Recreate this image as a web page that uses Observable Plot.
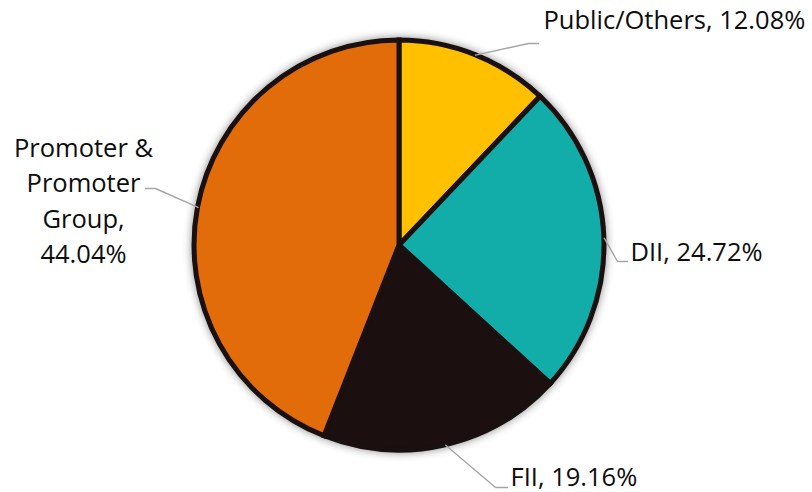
<!DOCTYPE html>
<html><head><meta charset="utf-8">
<script src="https://cdn.jsdelivr.net/npm/d3@7"></script>
<script src="https://cdn.jsdelivr.net/npm/@observablehq/plot@0.6"></script>
<style>body{margin:0;background:#fff}</style>
</head><body><div id="chart"></div>
<script>
// ---- data ----
const categories = ["Public/Others", "DII", "FII", "Promoter & Promoter Group"];
const shares = [12.08, 24.72, 19.16, 44.04];
const labelTexts = ["Public/Others, 12.08%", "DII, 24.72%", "FII, 19.16%", "Promoter &\nPromoter\nGroup,\n44.04%"];
const palette = ["#FFC000", "#12ADA8", "#1B0F0F", "#E36C0A"];

// ---- layout (pixels) ----
const W = 812, H = 492, cx = 399, cy = 245, R = 205;
const layout = [
  {elbow: [528, 43], end: [538, 43], text: [543, 20], anchor: "start"},
  {elbow: [617, 261], end: [627, 261], text: [630, 252], anchor: "start"},
  {elbow: [495, 487], end: [507, 487], text: [510, 477], anchor: "start"},
  {elbow: [155, 188], end: [145, 188], text: [83, 198], anchor: "middle"}
];

const rows = categories.map((c, i) => ({category: c, share: shares[i], label: labelTexts[i], i}));
const arcs = d3.pie().sort(null).value(d => d.share)(rows);

const edge = a => [cx + R * Math.sin(a), cy - R * Math.cos(a)];
const leaders = arcs.flatMap(a => {
  const L = layout[a.data.i];
  const m = (a.startAngle + a.endAngle) / 2;
  return [edge(m), L.elbow, L.end].map(p => ({key: a.data.category, x: p[0], y: p[1]}));
});
const labels = arcs.map(a => ({label: a.data.label, x: layout[a.data.i].text[0], y: layout[a.data.i].text[1], anchor: layout[a.data.i].anchor}));

const slices = Plot.dot(arcs, {
  x: () => cx, y: () => cy, fill: d => d.data.category,
  render: (index, scales) => {
    const x0 = scales.x(cx), y0 = scales.y(cy);
    const r = Math.abs(scales.x(cx + R) - x0);
    const arc = d3.arc().innerRadius(0).outerRadius(r);
    const g = d3.create("svg:g")
      .attr("transform", `translate(${x0},${y0})`)
      .style("filter", "drop-shadow(0px 0px 4px rgba(0,0,0,0.45))");
    g.selectAll("path").data(Array.from(index, i => arcs[i])).join("path")
      .attr("d", arc)
      .attr("fill", d => scales.color(d.data.category))
      .attr("stroke", "#1a1010")
      .attr("stroke-width", 5)
      .attr("stroke-linejoin", "miter");
    return g.node();
  }
});

const chart = Plot.plot({
  width: W, height: H,
  margin: 0,
  x: {domain: [0, W], range: [0, W], axis: null},
  y: {domain: [0, H], range: [0, H], axis: null},
  color: {domain: categories, range: palette},
  style: {fontFamily: "'Open Sans', sans-serif", background: "#fff", overflow: "visible"},
  marks: [
    slices,
    Plot.line(leaders, {x: "x", y: "y", z: "key", stroke: "#A6A6A6", strokeWidth: 1.4}),
    Plot.text(labels.filter(d => d.anchor === "start"), {x: "x", y: "y", text: "label", textAnchor: "start", fontSize: 25.5, fill: "#0d0d0d"}),
    Plot.text(labels.filter(d => d.anchor === "middle"), {x: "x", y: "y", text: "label", textAnchor: "middle", fontSize: 25.5, lineHeight: 1.39, fill: "#0d0d0d"})
  ]
});
document.getElementById("chart").append(chart);
</script>
</body></html>
